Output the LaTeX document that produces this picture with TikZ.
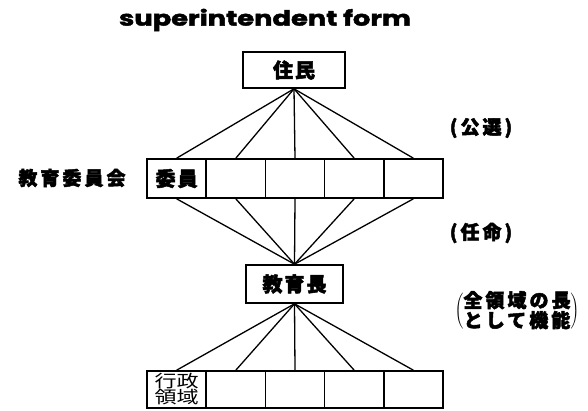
\documentclass[tikz,border=0pt]{standalone}
\usepackage{fontspec}
\newfontfamily\jp{Noto Sans CJK JP}[LetterSpace=16,BoldFeatures={FakeBold=2.5}]
\newfontfamily\jpt{Noto Sans CJK JP}[LetterSpace=10,BoldFeatures={FakeBold=2.5}]
\newfontfamily\jpn{Noto Sans CJK JP}
\newfontfamily\titlefont{Poppins}[BoldFeatures={FakeBold=2}]
\begin{document}
\begin{tikzpicture}[x=1pt,y=-1pt,
  box/.style={draw,line width=1.6pt,inner sep=0pt,font=\jpt\bfseries\fontsize{20}{22}\selectfont},
  cell/.style={draw,line width=1.6pt,inner sep=0pt,minimum width=59.2pt},
  conn/.style={line width=1.3pt},
  lbl/.style={inner sep=0pt,font=\jp\bfseries\fontsize{19}{22}\selectfont}]
\useasboundingbox (0,0) rectangle (588,410);
\node[inner sep=0pt,font=\titlefont\bfseries\fontsize{21}{24}\selectfont] (title) at (265,20) {\scalebox{1.3}[1]{superintendent form}};
\node[box,minimum width=102pt,minimum height=36pt] (jumin) at (294,70) {住民};
\foreach \i/\x in {1/176.6,2/235.8,3/295,4/354.2,5/413.4}{
  \node[cell,minimum height=39pt] (c\i) at (\x,178.5) {};
  \node[cell,minimum height=37pt] (d\i) at (\x,389.5) {};
}
\node[box,draw=none] (iin) at (c1) {委員};
\node[inner sep=0pt,align=center,font=\jpn\fontsize{17}{17}\selectfont] (gyo) at (d1) {\scalebox{1.3}[1]{行政}\\[-1pt]\scalebox{1.3}[1]{領域}};
\node[box,minimum width=97pt,minimum height=38pt] (kyo) at (294.5,284) {教育長};
\foreach \i in {1,...,5}{
  \draw[conn] (jumin.south) -- (c\i.north);
  \draw[conn] (c\i.south) -- (kyo.north);
  \draw[conn] (kyo.south) -- (d\i.north);
}
\node[lbl] (iinkai) at (72,178) {教育委員会};
\node[lbl] (kosen) at (481,128) {(公選)};
\node[lbl] (ninmei) at (481,233) {(任命)};
\node[inner sep=0pt] (zen) at (517,311) {$\left(\begin{tabular}{@{}c@{}}\jp\bfseries\fontsize{19}{27}\selectfont 全領域の長\\ \jp\bfseries\fontsize{19}{27}\selectfont として機能\end{tabular}\right)$};
\end{tikzpicture}
\end{document}
